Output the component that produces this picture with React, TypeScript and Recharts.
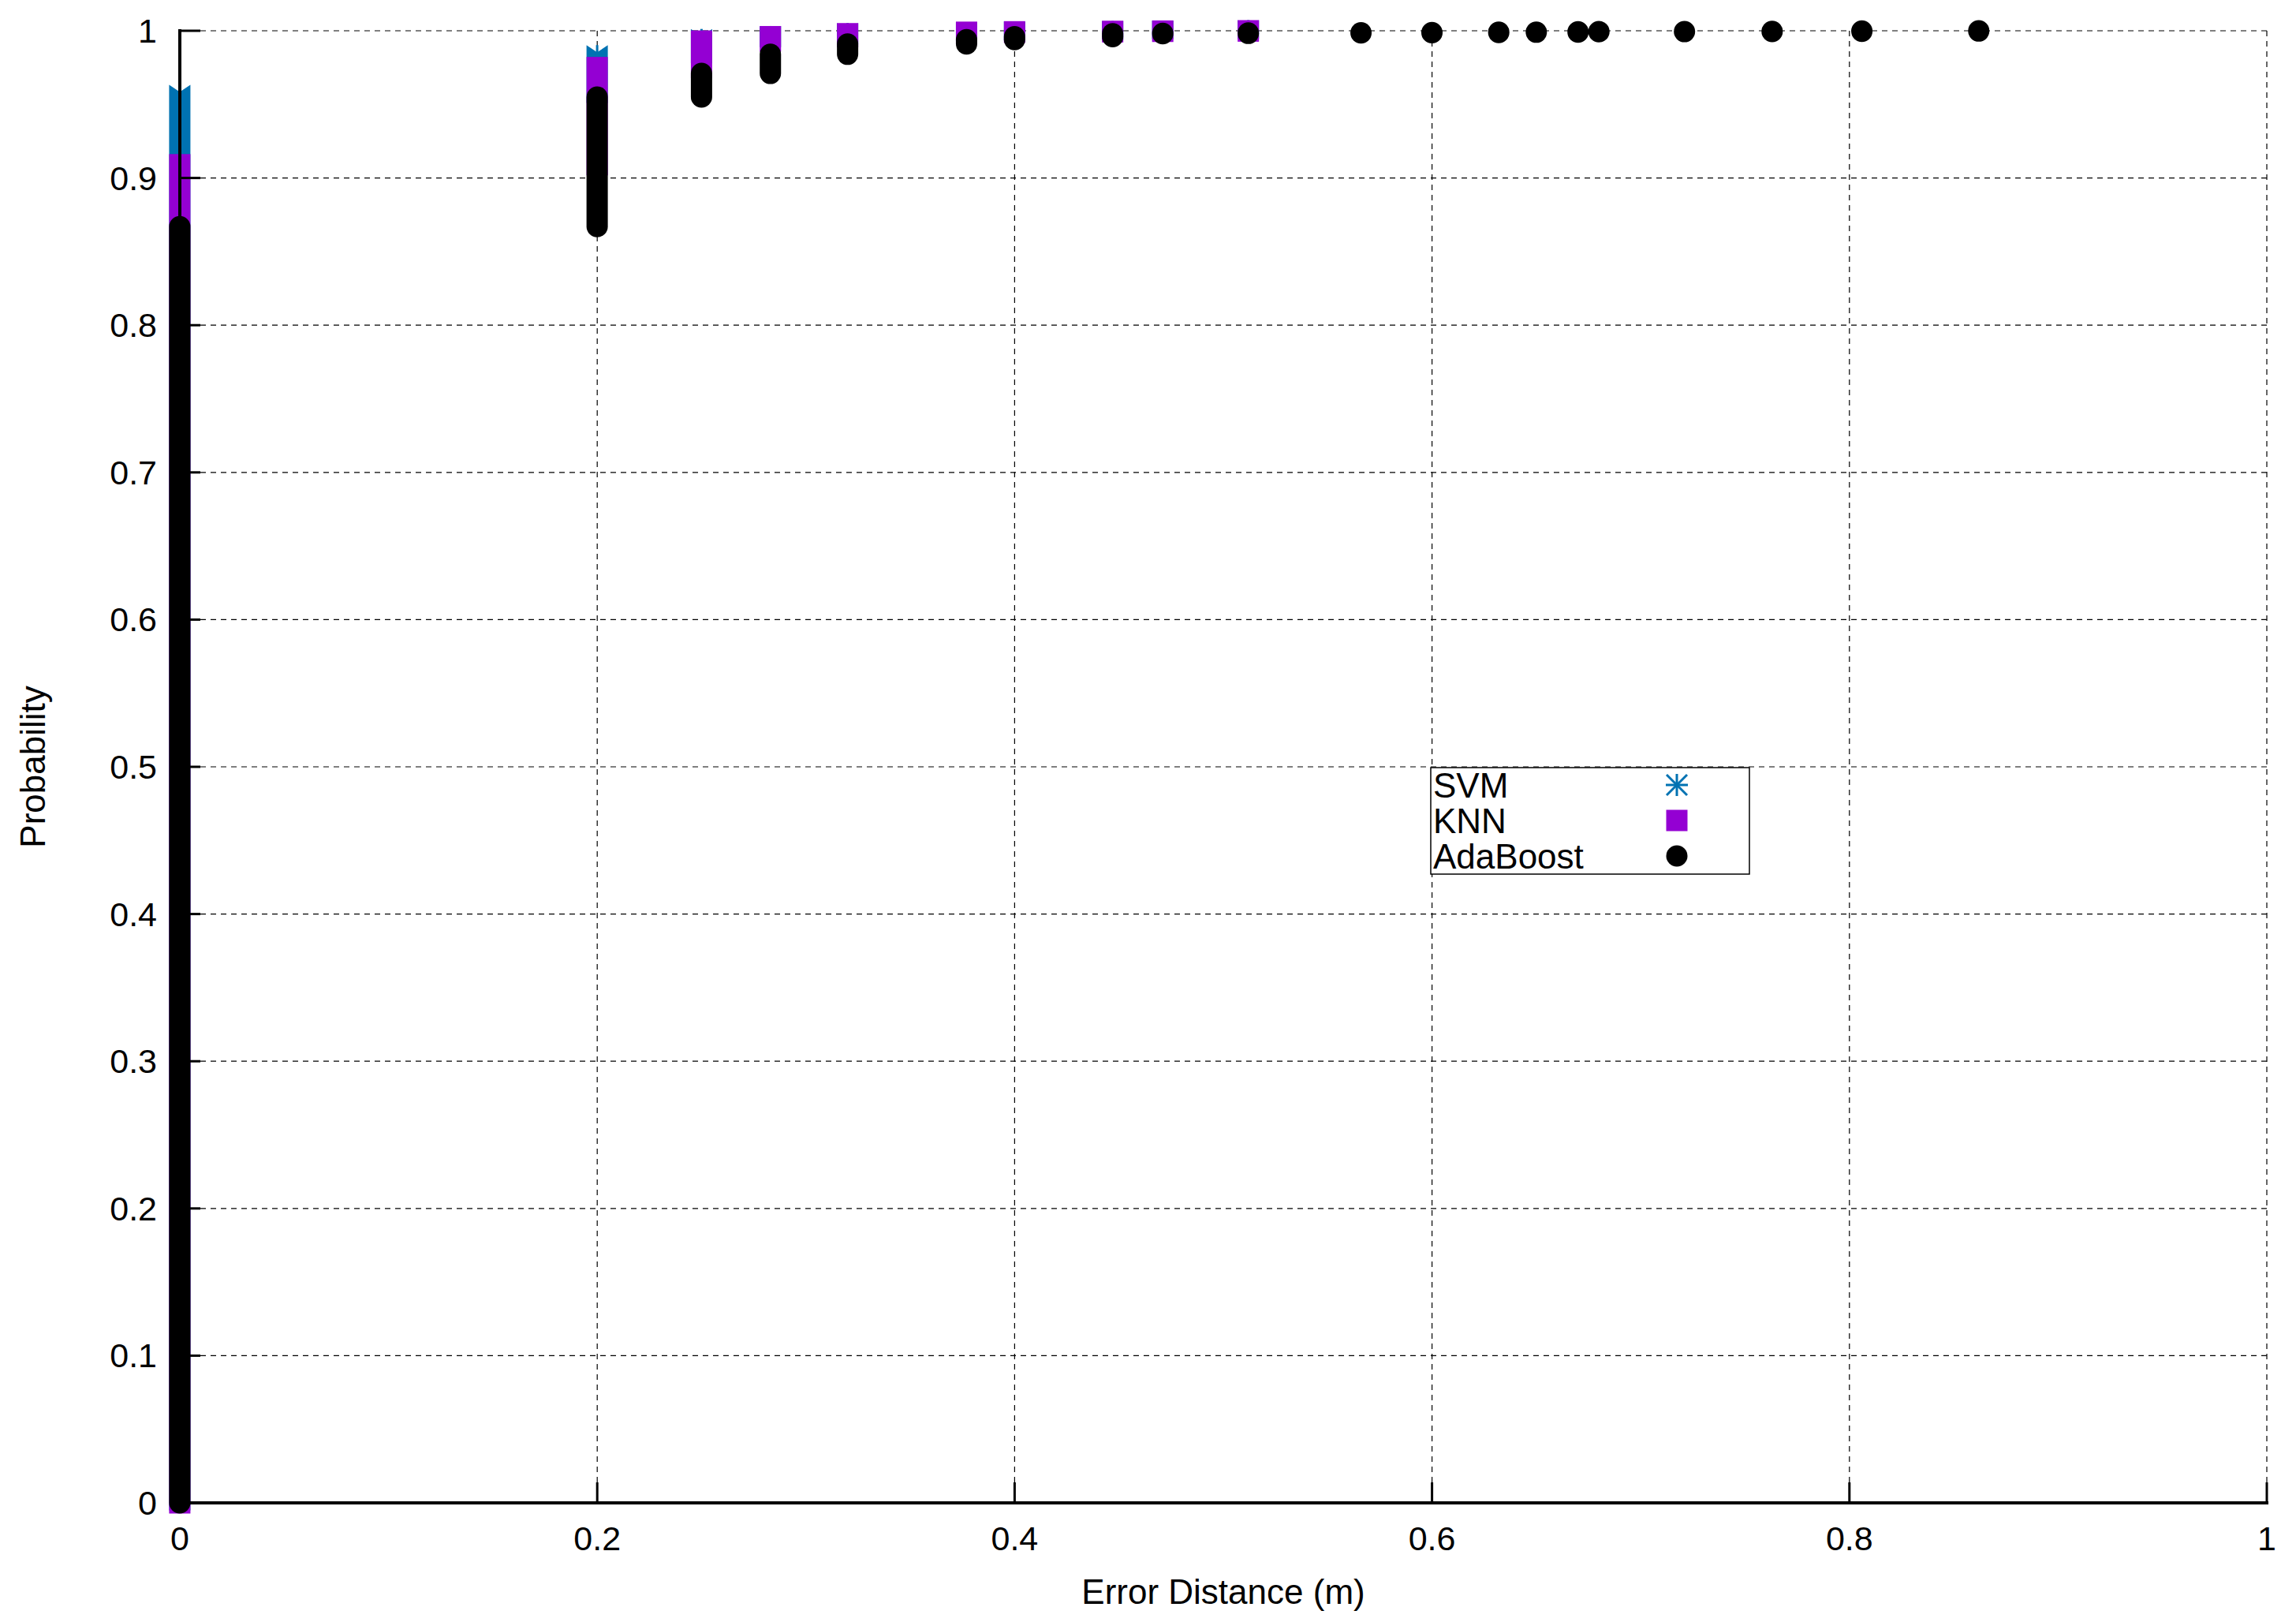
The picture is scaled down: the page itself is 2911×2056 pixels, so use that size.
import React from "react";
import { ComposedChart, Bar, XAxis, YAxis, CartesianGrid, Legend, Label } from "recharts";

// error distances (m) at which samples occur
const distances = [
  0, 0.2, 0.25, 0.283, 0.32, 0.377, 0.4, 0.447, 0.471, 0.512,
  0.566, 0.6, 0.632, 0.65, 0.67, 0.68, 0.721, 0.763, 0.806, 0.862,
];

// cumulative probability reached at each distance (null = no sample there)
const svmCdf = [
  0.956, 0.983, 0.994, 0.996, 0.998, 0.9985, 0.999, 0.9994, 0.9997, 1,
  null, null, null, null, null, null, null, null, null, null,
];
const knnCdf = [
  0.909, 0.975, 0.993, 0.996, 0.998, 0.999, 0.9993, 0.9996, 0.9998, 1,
  null, null, null, null, null, null, null, null, null, null,
];
const adaCdf = [
  0.867, 0.955, 0.971, 0.984, 0.991, 0.994, 0.996, 0.998, 0.9982, 0.9985,
  0.9987, 0.9988, 0.999, 0.9991, 0.9993, 0.9994, 0.9995, 0.9996, 0.9998, 1,
];

const xTicks = [0, 0.2, 0.4, 0.6, 0.8, 1];
const yTicks = [0, 0.1, 0.2, 0.3, 0.4, 0.5, 0.6, 0.7, 0.8, 0.9, 1];
const seriesNames = ["SVM", "KNN", "AdaBoost"];

const SVM_COLOR = "#0072b2";
const KNN_COLOR = "#9400d3";
const ADA_COLOR = "#000000";
const FONT = "'Liberation Sans', Arial, Helvetica, sans-serif";

const W = 2911;
const H = 2056;
const PLOT_LEFT = 228;
const PLOT_RIGHT = 2874;
const PLOT_TOP = 39;
const PLOT_BOTTOM = 1905;
const R = 13.5; // marker half size
const TICK_LEN = 26;
const AXIS_LINE = { stroke: "#000", strokeWidth: 4, strokeLinecap: "square" as const };

// each column goes from the previous cumulative value up to this one
function toRanges(cdf: (number | null)[]) {
  let prev = 0;
  return cdf.map((v) => {
    if (v == null) return null;
    const r = [prev, v];
    prev = v;
    return r;
  });
}

const svmRanges = toRanges(svmCdf);
const knnRanges = toRanges(knnCdf);
const adaRanges = toRanges(adaCdf);

const rows = distances.map((x, i) => ({
  x,
  svm: svmRanges[i],
  knn: knnRanges[i],
  ada: adaRanges[i],
}));

function geom(props: any, key: string) {
  const { x, y, width, height, payload } = props;
  if (!payload || payload[key] == null) return null;
  if (![x, y, width, height].every((v) => Number.isFinite(v))) return null;
  const cx = x + width / 2;
  const top = Math.min(y, y + height);
  const bot = Math.max(y, y + height);
  return { cx, top, bot };
}

function SvmShape(props: any) {
  const g = geom(props, "svm");
  if (!g) return <g />;
  const { cx, top, bot } = g;
  const notch = 9;
  const pts = [
    [cx - R, top - R],
    [cx, top - R + notch],
    [cx + R, top - R],
    [cx + R, bot + R * 0.7],
    [cx - R, bot + R * 0.7],
  ]
    .map((p) => p.join(","))
    .join(" ");
  return (
    <g>
      <polygon points={pts} fill={SVM_COLOR} />
      <line x1={cx} y1={top - R} x2={cx} y2={top} stroke={SVM_COLOR} strokeWidth={3} />
    </g>
  );
}

function KnnShape(props: any) {
  const g = geom(props, "knn");
  if (!g) return <g />;
  const { cx, top, bot } = g;
  return <rect x={cx - R} y={top - R} width={2 * R} height={bot - top + 2 * R} fill={KNN_COLOR} />;
}

function AdaShape(props: any) {
  const g = geom(props, "ada");
  if (!g) return <g />;
  const { cx, top, bot } = g;
  return (
    <rect x={cx - R} y={top - R} width={2 * R} height={bot - top + 2 * R} rx={R} ry={R} fill={ADA_COLOR} />
  );
}

const fmt = (v: number) => String(v);

function BottomTick({ x, y, payload }: any) {
  return (
    <g>
      <line x1={x} y1={y} x2={x} y2={y - TICK_LEN} stroke="#000" strokeWidth={3} />
      <text x={x} y={y + 60} textAnchor="middle" fontSize={43} fontFamily={FONT} fill="#000">
        {fmt(payload.value)}
      </text>
    </g>
  );
}

function TopTick({ x, y }: any) {
  return <line x1={x} y1={y} x2={x} y2={y + TICK_LEN} stroke="#000" strokeWidth={3} />;
}

function LeftTick({ x, y, payload }: any) {
  return (
    <g>
      <line x1={x} y1={y} x2={x + TICK_LEN} y2={y} stroke="#000" strokeWidth={3} />
      <text x={x - 29} y={y + 15} textAnchor="end" fontSize={43} fontFamily={FONT} fill="#000">
        {fmt(payload.value)}
      </text>
    </g>
  );
}

function RightTick({ x, y }: any) {
  return <line x1={x} y1={y} x2={x - TICK_LEN} y2={y} stroke="#000" strokeWidth={3} />;
}

// legend svg has 12px padding so the text boxes stay inside it
const PAD = 12;
function LegendBox() {
  const mx = PAD + 312;
  const rowY = (i: number) => PAD + 22 + 45 * i;
  return (
    <svg width={404 + 2 * PAD} height={135 + 2 * PAD} style={{ display: "block", overflow: "visible" }}>
      <rect x={PAD} y={PAD} width={404} height={135} fill="#fff" stroke="#000" strokeWidth={1.5} />
      {seriesNames.map((name, i) => (
        <text key={name} x={PAD + 3} y={rowY(i) + 16} fontSize={44} fontFamily={FONT} fill="#000">
          {name}
        </text>
      ))}
      <g stroke={SVM_COLOR} strokeWidth={3}>
        <line x1={mx - 14} y1={rowY(0)} x2={mx + 14} y2={rowY(0)} />
        <line x1={mx} y1={rowY(0) - 14} x2={mx} y2={rowY(0) + 14} />
        <line x1={mx - 13} y1={rowY(0) - 13} x2={mx + 13} y2={rowY(0) + 13} />
        <line x1={mx - 13} y1={rowY(0) + 13} x2={mx + 13} y2={rowY(0) - 13} />
      </g>
      <rect x={mx - R} y={rowY(1) - R} width={2 * R} height={2 * R} fill={KNN_COLOR} />
      <circle cx={mx} cy={rowY(2)} r={R} fill={ADA_COLOR} />
    </svg>
  );
}

export default function App() {
  return (
    <div style={{ position: "absolute", left: 0, top: 0, width: W, height: H, background: "#fff" }}>
      <ComposedChart
        width={W}
        height={H}
        data={rows}
        margin={{ top: PLOT_TOP, right: W - PLOT_RIGHT, bottom: 0, left: 0 }}
      >
        <CartesianGrid
          xAxisId="bottom"
          yAxisId="left"
          stroke="#000"
          strokeWidth={1.2}
          strokeDasharray="7 6"
        />
        <Bar
          name={seriesNames[0]}
          xAxisId="top"
          yAxisId="right"
          dataKey={(d: any) => d.svm}
          shape={(p: any) => <SvmShape {...p} />}
          isAnimationActive={false}
        />
        <Bar
          name={seriesNames[1]}
          xAxisId="knn"
          yAxisId="left"
          dataKey={(d: any) => d.knn}
          shape={(p: any) => <KnnShape {...p} />}
          isAnimationActive={false}
        />
        <Bar
          name={seriesNames[2]}
          xAxisId="bottom"
          yAxisId="left"
          dataKey={(d: any) => d.ada}
          shape={(p: any) => <AdaShape {...p} />}
          isAnimationActive={false}
        />
        <XAxis
          xAxisId="bottom"
          dataKey="x"
          type="number"
          domain={[0, 1]}
          ticks={xTicks}
          interval={0}
          height={H - PLOT_BOTTOM}
          tickSize={0}
          tickMargin={0}
          tick={<BottomTick />}
          axisLine={AXIS_LINE}
          zIndex={1500}
        >
          <Label
            content={() => (
              <text
                x={(PLOT_LEFT + PLOT_RIGHT) / 2}
                y={2033}
                textAnchor="middle"
                fontSize={44}
                fontFamily={FONT}
                fill="#000"
              >
                Error Distance (m)
              </text>
            )}
          />
        </XAxis>
        <XAxis
          xAxisId="top"
          orientation="top"
          dataKey="x"
          type="number"
          domain={[0, 1]}
          ticks={xTicks}
          interval={0}
          height={0}
          tickSize={0}
          tickMargin={0}
          tick={<TopTick />}
          axisLine={AXIS_LINE}
          zIndex={1500}
        />
        <XAxis xAxisId="knn" dataKey="x" type="number" domain={[0, 1]} hide />
        <YAxis
          yAxisId="left"
          type="number"
          domain={[0, 1]}
          ticks={yTicks}
          interval={0}
          width={PLOT_LEFT}
          tickSize={0}
          tickMargin={0}
          tick={<LeftTick />}
          axisLine={AXIS_LINE}
          zIndex={1500}
        >
          <Label
            content={() => (
              <text
                x={41}
                y={(PLOT_TOP + PLOT_BOTTOM) / 2}
                textAnchor="middle"
                dominantBaseline="central"
                transform={`rotate(-90 41 ${(PLOT_TOP + PLOT_BOTTOM) / 2})`}
                fontSize={44}
                fontFamily={FONT}
                fill="#000"
              >
                Probability
              </text>
            )}
          />
        </YAxis>
        <YAxis
          yAxisId="right"
          orientation="right"
          type="number"
          domain={[0, 1]}
          ticks={yTicks}
          interval={0}
          width={0}
          tickSize={0}
          tickMargin={0}
          tick={<RightTick />}
          axisLine={AXIS_LINE}
          zIndex={1500}
        />
        <Legend
          layout="vertical"
          align="center"
          verticalAlign="middle"
          content={() => <LegendBox />}
          wrapperStyle={{
            position: "absolute",
            left: 1814 - PAD,
            top: 973 - PAD,
            width: 404 + 2 * PAD,
            height: 135 + 2 * PAD,
          }}
        />
      </ComposedChart>
    </div>
  );
}
